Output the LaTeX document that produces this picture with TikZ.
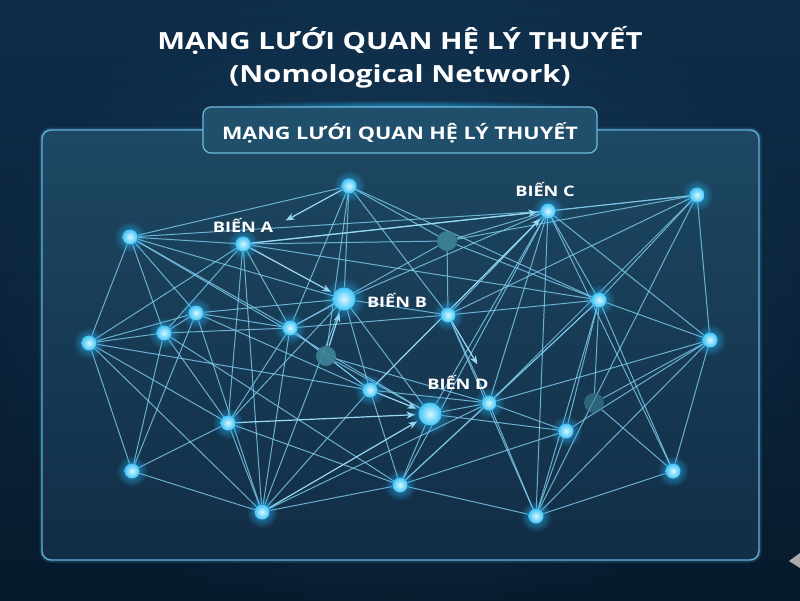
\documentclass[tikz,border=0pt]{standalone}
\usepackage{fontspec}
\setmainfont{Open Sans}[FakeStretch=1.25]
\usetikzlibrary{arrows.meta,fadings}

\definecolor{bgtop}{HTML}{0F2D49}
\definecolor{bgbot}{HTML}{071A2D}
\definecolor{bgmid}{HTML}{1A4A6B}
\definecolor{paneltop}{HTML}{1D4863}
\definecolor{panelbot}{HTML}{122D46}
\definecolor{panelb}{HTML}{5EB2D8}
\definecolor{tabfill}{HTML}{204F6C}
\definecolor{linkc}{HTML}{7ECBEC}
\definecolor{arrowc}{HTML}{9ADAF5}
\definecolor{dotin}{HTML}{D8F6FF}
\definecolor{dotout}{HTML}{40C4F6}
\definecolor{glowc}{HTML}{28B4F5}
\definecolor{dimc}{HTML}{3E8398}

\tikzfading[name=glowfade, inner color=transparent!0, outer color=transparent!100]

\pgfdeclarelayer{bg}
\pgfdeclarelayer{links}
\pgfsetlayers{bg,links,main}

\tikzset{
  dot/.style={circle, inner sep=0pt, minimum size=15pt, inner color=dotin, outer color=dotout},
  bigdot/.style={dot, minimum size=23pt},
  dimdot/.style={circle, inner sep=0pt, minimum size=20pt, fill=dimc, opacity=.9},
  link/.style={draw=linkc, line width=1pt, opacity=.82},
  flow/.style={draw=arrowc, line width=1.2pt, -{Stealth[length=9pt,width=7pt]}, shorten >=3pt},
  varlabel/.style={text=white, anchor=base, font=\bfseries\fontsize{14.5}{14.5}\selectfont},
  glow/.style={fill=glowc, path fading=glowfade, opacity=.8}
}

\begin{document}
\begin{tikzpicture}[x=1pt,y=-1pt]
\useasboundingbox (0,0) rectangle (800,600);

\begin{pgfonlayer}{bg}
% backdrop
\shade[top color=bgtop, bottom color=bgbot] (0,0) rectangle (800,600);
\fill[bgmid, path fading=glowfade, opacity=.55] (400,300) ellipse (430 and 330);
% panel
\draw[panelb, line width=5pt, opacity=.2, rounded corners=9pt] (42,130) rectangle (759,560);
\path[top color=paneltop, bottom color=panelbot, draw=panelb, line width=1.4pt, rounded corners=9pt]
  (42,130) rectangle (759,560);
% tab
\fill[glowc, path fading=glowfade, opacity=.7] (400,107) ellipse (190 and 7);
\path[fill=tabfill, draw=panelb!90!white, line width=1.2pt, rounded corners=8pt]
  (203,107) rectangle (597,153);
\fill[gray!65] (800,553) -- (789,561) -- (800,568) -- cycle;
\end{pgfonlayer}

% titles
\node[text=white, anchor=base, font=\bfseries\fontsize{23.6}{23.6}\selectfont] (title) at (400,49) {MẠNG LƯỚI QUAN HỆ LÝ THUYẾT};
\node[text=white, anchor=base, font=\bfseries\fontsize{23.6}{23.6}\selectfont] (subtitle) at (400,82) {(Nomological Network)};
\node[text=white, anchor=base, font=\bfseries\fontsize{17.3}{17.3}\selectfont] (tab) at (400,139) {MẠNG LƯỚI QUAN HỆ LÝ THUYẾT};

% nodes
\node[dot] (n1) at (349,186) {};
\node[dot] (n2) at (130,237) {};
\node[dot] (a) at (243,244) {};
\node[dot] (c) at (548,211) {};
\node[dot] (n3) at (697,195) {};
\node[dimdot] (g1) at (447,241) {};
\node[bigdot] (b) at (344,299) {};
\node[dot] (n4) at (196,313) {};
\node[dot] (n5) at (164,333) {};
\node[dot] (n6) at (290,328) {};
\node[dot] (n7) at (89,343) {};
\node[dot] (n8) at (448,315) {};
\node[dot] (n9) at (599,300) {};
\node[dot] (n10) at (710,340) {};
\node[dimdot] (g2) at (326,356) {};
\node[dot] (n11) at (370,390) {};
\node[bigdot] (d) at (430,414) {};
\node[dot] (n12) at (489,403) {};
\node[dimdot, opacity=.6] (g3) at (594,403) {};
\node[dot] (n13) at (566,431) {};
\node[dot] (n14) at (228,423) {};
\node[dot] (n15) at (132,471) {};
\node[dot] (n16) at (262,512) {};
\node[dot] (n17) at (400,485) {};
\node[dot] (n18) at (536,516) {};
\node[dot] (n19) at (673,471) {};
\coordinate (pa) at (283,222);
\coordinate (pd) at (479,367);

% labels
\node[varlabel] (la) at (243,232) {BIẾN A};
\node[varlabel] (lb) at (397,307) {BIẾN B};
\node[varlabel] (lc) at (545,196) {BIẾN C};
\node[varlabel] (ld) at (458,389) {BIẾN D};

\begin{pgfonlayer}{links}
\foreach \s/\e in {n1/n2, n1/n6, n1/g2, n1/n8, n1/n9, n1/g1, n1/b,
  n2/a, n2/n7, n2/n5, n2/n4, n2/n6, n2/b, n2/d, n2/c,
  a/n7, a/n5, a/n14, a/n16, a/n6, a/n9, a/g1, a/n3,
  b/n6, b/n8, b/d, b/n11, b/n16, b/c, b/n4,
  n8/c, n8/n12, n8/n9, n8/n6, n8/n18, n8/g1,
  g1/c, g1/n9, g1/n6, g1/n3,
  c/n3, c/n17, c/d, c/n12, c/n9, c/n10, c/n18, c/n19,
  n3/n9, n3/n12, n3/n10, n3/n18, n3/n8,
  n9/n12, n9/n18, n9/n19, n9/n10, n9/n13, n9/n17,
  n10/n12, n10/n13, n10/n18, n10/n19, n10/g3,
  n12/d, n12/n13, n12/n18, n12/n17, n12/n11,
  g3/n19, g3/n9, n13/n18, n13/d, n13/n17, n19/n18, n18/n17,
  n17/n16, n17/d, n17/n14,
  n16/n7, n16/n14, n16/n15, n16/n4, n16/n6, n16/n11, n16/n12,
  n15/n7, n15/n14, n15/n5, n15/n4,
  n14/n7, n14/n5, n14/n6, n14/b,
  n7/n5, n7/n4, n7/n11, n5/n4, n5/n6, n5/n17, n4/n6, n4/n11,
  n6/n11, n6/g2, g2/n11, g2/d, g2/n12, n11/n17}
  \draw[link] (\s) -- (\e);
% directed relations
\draw[flow] (n1) -- (pa);
\draw[flow] (a) -- (b);
\draw[flow] (g2) -- (b);
\draw[flow] (a) -- (c);
\draw[flow] (n11) -- (c);
\draw[flow] (n8) -- (pd);
\draw[flow] (n11) -- (d);
\draw[flow] (n14) -- (d);
\draw[flow] (n16) -- (d);
% glow
\foreach \n in {n1,n2,a,c,n3,n4,n5,n6,n7,n8,n9,n10,n11,n12,n13,n14,n15,n16,n17,n18,n19}
  \fill[glow] (\n) circle (16pt);
\foreach \n in {b,d}
  \fill[glow] (\n) circle (22pt);
\end{pgfonlayer}
\end{tikzpicture}
\end{document}
